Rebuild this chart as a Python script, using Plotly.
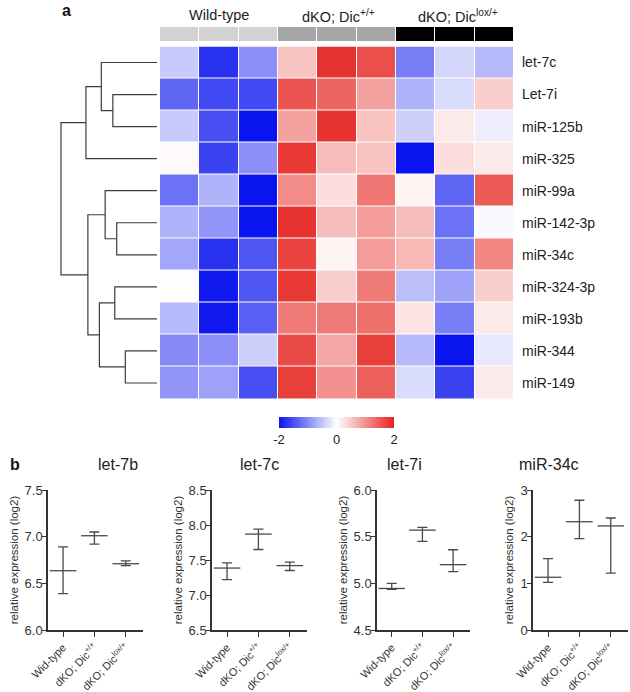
import plotly.graph_objects as go

W, H = 630, 692
FONT = "Liberation Sans, Arial, sans-serif"

# ---------------- data ----------------
mirnas = ["let-7c", "Let-7i", "miR-125b", "miR-325", "miR-99a", "miR-142-3p",
          "miR-34c", "miR-324-3p", "miR-193b", "miR-344", "miR-149"]
groups = ["Wild-type", "dKO; Dic<sup>+/+</sup>", "dKO; Dic<sup>lox/+</sup>"]
sample_group = [0, 0, 0, 1, 1, 1, 2, 2, 2]

z_scores = [
    [-0.45, -1.75, -0.95, 0.55, 1.85, 1.60, -1.10, -0.35, -0.60],
    [-1.30, -1.55, -1.55, 1.55, 1.40, 0.85, -0.65, -0.30, 0.45],
    [-0.45, -1.50, -2.00, 0.85, 1.85, 0.55, -0.40, 0.20, -0.15],
    [0.05, -1.60, -0.95, 1.80, 0.60, 0.55, -2.00, 0.30, 0.20],
    [-1.20, -0.65, -2.00, 1.05, 0.30, 1.25, 0.10, -1.30, 1.50],
    [-0.65, -0.90, -2.00, 1.85, 0.60, 0.90, 0.60, -1.20, -0.05],
    [-0.75, -1.75, -1.45, 1.70, 0.10, 0.90, 0.65, -1.10, 1.10],
    [0.02, -1.95, -1.45, 1.80, 0.45, 1.20, -0.55, -0.80, 0.45],
    [-0.60, -1.95, -1.35, 1.20, 1.20, 1.30, 0.25, -1.10, 0.20],
    [-1.00, -0.95, -0.40, 1.65, 0.80, 1.75, -0.60, -2.00, -0.20],
    [-0.90, -0.80, -1.50, 1.75, 1.00, 1.45, -0.30, -1.60, 0.20],
]

# hierarchical clustering merges: (child_a, child_b, height); leaves 0..10, new ids from 11
merges = [
    (1, 2, 0.46),
    (0, 11, 0.58),
    (12, 3, 0.74),
    (5, 6, 0.42),
    (4, 14, 0.54),
    (7, 8, 0.44),
    (9, 10, 0.33),
    (16, 17, 0.60),
    (15, 18, 0.72),
    (13, 19, 1.00),
]

panel_titles = ["let-7b", "let-7c", "let-7i", "miR-34c"]
bar_labels = ["Wid-type", "dKO; Dic<sup>+/+</sup>", "dKO; Dic<sup>lox/+</sup>"]
means = [[6.635, 7.01, 6.71], [7.385, 7.87, 7.42], [4.945, 5.57, 5.20], [1.13, 2.32, 2.23]]
highs = [[6.89, 7.05, 6.74], [7.46, 7.94, 7.47], [5.00, 5.60, 5.36], [1.53, 2.78, 2.40]]
lows = [[6.39, 6.92, 6.69], [7.22, 7.65, 7.35], [4.935, 5.45, 5.125], [1.02, 1.96, 1.22]]
y_ranges = [[6.0, 7.5], [6.5, 8.5], [4.5, 6.0], [0, 3]]
y_dticks = [0.5, 0.5, 0.5, 1]
y_formats = [".1f", ".1f", ".1f", "d"]

# ---------------- helpers ----------------
def fx(px):
    return px / W

def fy(py):
    return 1 - py / H

fig = go.Figure()

# heatmap
fig.add_trace(go.Heatmap(
    z=z_scores, x=list(range(9)), y=list(range(len(mirnas))),
    zmin=-2, zmax=2,
    colorscale=[[0, "#0a14ee"], [0.5, "#ffffff"], [1, "#e5231e"]],
    xgap=1, ygap=1,
    xaxis="x", yaxis="y",
    colorbar=dict(orientation="h", x=fx(336.5), xanchor="center",
                  y=fy(417), yanchor="top", len=115, lenmode="pixels",
                  thickness=11, outlinewidth=0, xpad=0, ypad=0,
                  tickvals=[-2, 0, 2], ticktext=["-2", "0", "2"], ticks="",
                  tickfont=dict(family=FONT, size=13, color="#222")),
    hoverinfo="skip",
))

# group annotation bar
fig.add_trace(go.Heatmap(
    z=[sample_group], x=list(range(9)), y=[0],
    zmin=0, zmax=2,
    colorscale=[[0, "#d2d2d2"], [0.5, "#a6a6a6"], [1, "#000000"]],
    showscale=False, xgap=1, ygap=0,
    xaxis="x", yaxis="y3", hoverinfo="skip",
))

# dendrogram
node_pos = {i: (0.0, float(i)) for i in range(len(mirnas))}
dx, dy = [], []
nid = len(mirnas)
for a, b, h in merges:
    ha, ya = node_pos[a]
    hb, yb = node_pos[b]
    dx += [ha, h, h, hb, None]
    dy += [ya, ya, yb, yb, None]
    node_pos[nid] = (h, (ya + yb) / 2)
    nid += 1
fig.add_trace(go.Scatter(x=dx, y=dy, mode="lines",
                         line=dict(color="#3c3c3c", width=1.2),
                         xaxis="x2", yaxis="y2", hoverinfo="skip", showlegend=False))

# bottom panels
panel_x = [(48, 143), (212, 307), (377, 470), (533, 628)]
for i in range(4):
    xa = f"x{i+3}"
    ya = f"y{i+4}"
    up = [h - m for h, m in zip(highs[i], means[i])]
    dn = [m - l for m, l in zip(means[i], lows[i])]
    fig.add_trace(go.Scatter(
        x=[0, 1, 2], y=means[i], mode="markers",
        marker=dict(symbol="line-ew", size=19, color="#4a4a4a",
                    line=dict(width=1.3, color="#4a4a4a")),
        error_y=dict(type="data", symmetric=False, array=up, arrayminus=dn,
                     color="#4a4a4a", thickness=1.3, width=5),
        xaxis=xa, yaxis=ya, showlegend=False, hoverinfo="skip"))

layout = dict(
    width=W, height=H, margin=dict(l=0, r=0, t=0, b=0, autoexpand=False),
    paper_bgcolor="white", plot_bgcolor="white", showlegend=False,
    font=dict(family=FONT, color="#222"),
    xaxis=dict(domain=[fx(160), fx(514)], range=[-0.5, 8.5], visible=False, anchor="y"),
    yaxis=dict(domain=[fy(399), fy(46.5)], range=[10.5, -0.5], anchor="x", side="right",
               tickvals=list(range(len(mirnas))), ticktext=mirnas, ticks="",
               showline=False, showgrid=False, zeroline=False, ticklabelstandoff=7,
               automargin=False,
               tickfont=dict(family=FONT, size=14, color="#222")),
    yaxis3=dict(domain=[fy(41), fy(27)], range=[0.5, -0.5], visible=False, anchor="x"),
    xaxis2=dict(domain=[0, fx(157)], range=[157 / 96, 0], visible=False, anchor="y2"),
    yaxis2=dict(domain=[fy(399), fy(46.5)], range=[10.5, -0.5], visible=False, anchor="x2"),
)

for i in range(4):
    x0, x1 = panel_x[i]
    layout[f"xaxis{i+3}"] = dict(
        domain=[fx(x0), fx(x1)], range=[-0.48, 2.55], anchor=f"y{i+4}",
        tickvals=[0, 1, 2], ticktext=bar_labels, tickangle=-45,
        ticks="outside", ticklen=5, tickwidth=1.3, tickcolor="#333",
        showline=True, linecolor="#333", linewidth=1.5,
        showgrid=False, zeroline=False, automargin=False,
        tickfont=dict(family=FONT, size=11, color="#333"))
    layout[f"yaxis{i+4}"] = dict(
        domain=[fy(630), fy(490)], range=y_ranges[i], anchor=f"x{i+3}",
        dtick=y_dticks[i], tick0=y_ranges[i][0], tickformat=y_formats[i],
        ticks="outside", ticklen=4, tickwidth=1.3, tickcolor="#333",
        showline=True, linecolor="#333", linewidth=1.5,
        showgrid=False, zeroline=False, ticklabelstandoff=-3, automargin=False,
        tickfont=dict(family=FONT, size=13, color="#333"),
        title=dict(text="relative expression (log2)", standoff=4,
                   font=dict(family=FONT, size=11.5, color="#333")))

fig.update_layout(**layout)

ann = []
ann.append(dict(text="<b>a</b>", x=fx(60), y=fy(0), xref="paper", yref="paper",
                showarrow=False, font=dict(family=FONT, size=16, color="#111")))
ann.append(dict(text="<b>b</b>", x=fx(8), y=fy(475), xref="paper", yref="paper",
                showarrow=False, font=dict(family=FONT, size=16, color="#111")))
header_left = [None, 300, 416]
for gi, g in enumerate(groups):
    cx = 160 + (gi + 0.5) * (514 - 160) / 3
    if header_left[gi] is None:
        ann.append(dict(text=g, x=fx(cx), y=fy(5), xref="paper", yref="paper",
                        showarrow=False, font=dict(family=FONT, size=14.5, color="#222")))
    else:
        ann.append(dict(text=g, x=fx(header_left[gi]), xanchor="left", y=fy(5),
                        xref="paper", yref="paper", showarrow=False,
                        font=dict(family=FONT, size=14.5, color="#222")))
for i, t in enumerate(panel_titles):
    x0, x1 = panel_x[i]
    ann.append(dict(text=t, x=fx((x0 + x1) / 2), y=fy(475), xref="paper", yref="paper",
                    showarrow=False, font=dict(family=FONT, size=16, color="#222")))
fig.update_layout(annotations=ann)

fig.write_html("out.html", config={"displayModeBar": False},
               post_script="document.body.style.margin='0';document.body.style.overflow='hidden';")
